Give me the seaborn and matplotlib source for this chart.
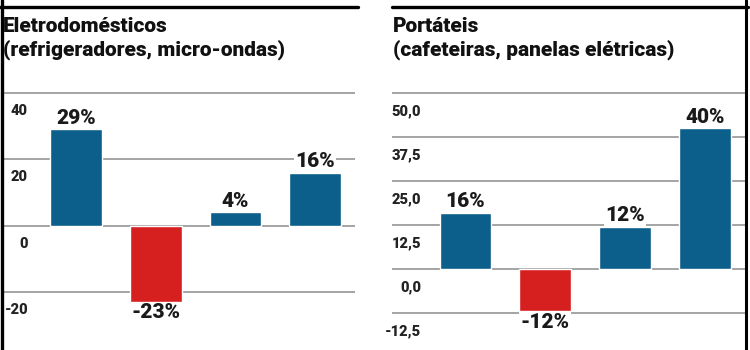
import pandas as pd
import seaborn as sns
import matplotlib.pyplot as plt
from matplotlib.lines import Line2D
from matplotlib.transforms import offset_copy

# data
periodos = ["1", "2", "3", "4"]
eletro_vals = [29, -23, 4, 16]
eletro_rotulos = ["29%", "-23%", "4%", "16%"]
eletro_ticks = [-20, 0, 20, 40]
eletro_ticklabels = ["-20", "0", "20", "40"]

portateis_vals = [16, -12, 12, 40]
portateis_rotulos = ["16%", "-12%", "12%", "40%"]
portateis_ticks = [-12.5, 0, 12.5, 25, 37.5, 50]
portateis_ticklabels = ["-12,5", "0,0", "12,5", "25,0", "37,5", "50,0"]

azul = "#0d5f8b"
vermelho = "#d6201f"

sns.set_style("white")
plt.rcParams["font.family"] = ["Roboto", "DejaVu Sans"]

fig = plt.figure(figsize=(7.5, 3.5), dpi=100)
W, H = 750, 350


def painel(rect, vals, rotulos, ticks, ticklabels, ylim, lab_x):
    ax = fig.add_axes(rect)
    df = pd.DataFrame({"periodo": periodos, "valor": vals})
    cores = [azul if v >= 0 else vermelho for v in vals]
    sns.barplot(data=df, x="periodo", y="valor", hue="periodo", palette=cores,
                legend=False, width=0.65, saturation=1, ax=ax)
    ax.set_xlim(-0.92, 3.5)
    ax.set_ylim(*ylim)
    ax.set_yticks(ticks)
    ax.set_yticklabels([])
    ax.set_xticks([])
    ax.set_xlabel("")
    ax.set_ylabel("")
    ax.tick_params(length=0)
    ax.set_axisbelow(True)
    ax.yaxis.grid(True, color="#8c8c8c", linewidth=1.1)
    for s in ax.spines.values():
        s.set_visible(False)
    ax.patch.set_alpha(0)
    for cont, lbl in zip(ax.containers, rotulos):
        ax.bar_label(cont, labels=[lbl], padding=1, fontsize=15, fontweight="heavy",
                     color="#1a1a1a",
                     bbox=dict(facecolor="white", edgecolor="none", pad=1))
    tr = offset_copy(ax.get_yaxis_transform(), fig=fig, y=-11, units="dots")
    for t, tl in zip(ticks, ticklabels):
        ax.text(lab_x, t, tl, transform=tr, ha="right", va="top",
                fontsize=10.5, fontweight="heavy", color="#222222")
    return ax


painel([3 / W, 5 / H, 352 / W, 253 / H], eletro_vals, eletro_rotulos,
       eletro_ticks, eletro_ticklabels, (-36.0, 40.3), 25 / 352)
painel([392 / W, 5 / H, 353 / W, 253 / H], portateis_vals, portateis_rotulos,
       portateis_ticks, portateis_ticklabels, (-21.6, 50.3), 29 / 353)

# titles
tkw = dict(fontsize=15, fontweight="heavy", color="#111111")
fig.text(3 / W, 1 - 32 / H, "Eletrodomésticos", **tkw)
fig.text(3 / W, 1 - 56 / H, "(refrigeradores, micro-ondas)", **tkw)
fig.text(393 / W, 1 - 32 / H, "Portáteis", **tkw)
fig.text(393 / W, 1 - 56 / H, "(cafeteiras, panelas elétricas)", **tkw)

# frame rules
fig.add_artist(Line2D([0, 358 / W], [1 - 7 / H] * 2, color="black", linewidth=2.4))
fig.add_artist(Line2D([392 / W, 748 / W], [1 - 7 / H] * 2, color="black", linewidth=2.4))
fig.add_artist(Line2D([1.5 / W] * 2, [0, 1], color="black", linewidth=2.4))
fig.add_artist(Line2D([746 / W] * 2, [0, 1], color="black", linewidth=2.2))

fig.savefig("out.png", dpi=100)
